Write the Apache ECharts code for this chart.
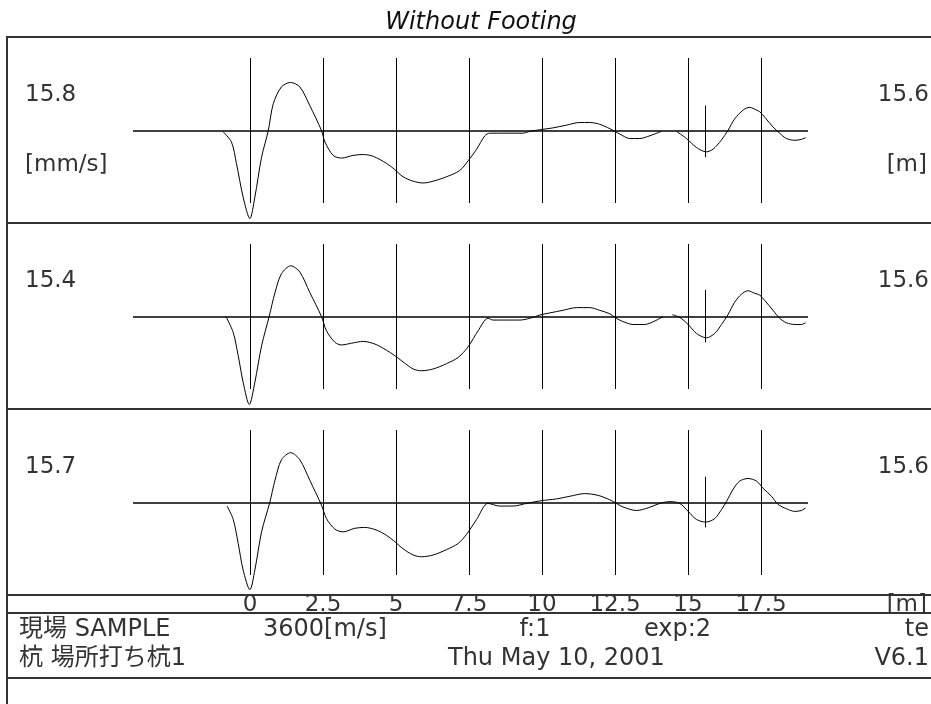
<!DOCTYPE html>
<html><head><meta charset="utf-8">
<script src="https://cdn.jsdelivr.net/npm/echarts@6/dist/echarts.min.js"></script>
<style>html,body{margin:0;padding:0;background:#fff}#c{width:931px;height:704px}</style>
</head><body><div id="c"></div>
<script>
// ---------------- data ----------------
const chartTitle = 'Without Footing';
const distTicks = ['0', '2.5', '5', '7.5', '10', '12.5', '15', '17.5'];
const gridDist = [0, 2.5, 5, 7.5, 10, 12.5, 15, 17.5];
const pileTip = 15.6;                       // pile length marker [m]
const panelMax = ['15.8', '15.4', '15.7'];  // [mm/s]
const pileLen = ['15.6', '15.6', '15.6'];   // [m]
const markerTop = [28, 30, 29];             // % of panel max
const markerBottom = [-30, -29, -28];

// distance [m] / velocity (% of panel max)
const p1Dist = [-0.93,-0.63,-0.46,-0.23,0.0,0.17,0.40,0.63,0.80,1.08,1.39,1.71,2.05,2.45,2.57,2.85,3.14,3.53,3.88,4.22,4.68,4.96,5.24,5.59,5.93,6.27,6.73,7.18,7.47,7.76,8.04,8.21,9.34,9.58,9.96,10.38,10.83,11.29,11.63,11.97,12.32,12.49,12.66,13.0,13.34,13.68,14.08,14.3,14.6,14.94,15.28,15.62,15.85,16.13,16.36,16.59,16.88,17.1,17.34,17.45,17.62,17.9,18.13,18.36,18.65,18.87,19.02];
const p1Vel = [-1,-13,-37,-75,-99,-75,-30,0,30,49,54,49,28,0,-13,-28,-31,-28,-27,-29,-37,-44,-52,-57,-59,-57,-52,-45,-34,-21,-6,-3,-3,-1,1,3,6,9,9,7,2,-1,-4,-9,-9,-6,-1,null,-1,-9,-19,-24,-21,-11,0,13,23,26,23,21,15,4,-3,-9,-11,-10,-8];

const p2Dist = [-0.82,-0.57,-0.40,-0.23,-0.02,0.17,0.40,0.66,0.86,1.08,1.40,1.71,2.05,2.45,2.62,2.91,3.14,3.48,3.88,4.28,4.68,4.96,5.24,5.59,5.87,6.27,6.73,7.13,7.47,7.81,8.15,8.32,9.24,9.58,9.96,10.26,10.72,11.18,11.63,11.97,12.32,12.49,12.72,13.11,13.51,13.86,14.14,14.3,14.46,14.71,15.0,15.28,15.62,15.91,16.14,16.36,16.59,16.82,17.05,17.28,17.45,17.62,17.9,18.13,18.36,18.65,18.87,19.02];
const p2Vel = [0,-18,-44,-74,-99,-74,-33,0,27,48,57,50,27,0,-16,-29,-32,-30,-28,-31,-38,-44,-51,-59,-61,-59,-53,-46,-34,-16,-2,-4,-4,-2,2,4,7,10,10,7,3,-1,-5,-9,-9,-5,0,null,2,-1,-9,-19,-24,-19,-9,2,16,25,29,26,24,18,7,-2,-7,-9,-9,-7];

const p3Dist = [-0.78,-0.57,-0.40,-0.23,0.0,0.17,0.40,0.68,0.86,1.08,1.40,1.71,2.05,2.45,2.62,2.91,3.19,3.59,3.93,4.33,4.68,4.96,5.24,5.59,5.87,6.27,6.73,7.13,7.41,7.76,8.15,8.55,9.01,9.47,9.96,10.49,10.95,11.46,11.92,12.32,12.49,12.77,13.23,13.63,14.03,14.37,14.71,15.0,15.28,15.6,15.91,16.14,16.31,16.54,16.76,17.05,17.34,17.56,17.85,18.07,18.36,18.65,18.87,19.02];
const p3Vel = [-4,-19,-46,-76,-98,-76,-33,0,25,48,56,48,25,-3,-18,-30,-33,-29,-28,-31,-37,-44,-52,-59,-61,-59,-53,-46,-36,-19,-1,-4,-4,-1,2,4,7,10,8,3,0,-5,-9,-6,-1,1,-1,-10,-19,-22,-18,-8,1,15,24,27,24,16,7,-2,-7,-10,-9,-6];

const infoRow1 = ['現場 SAMPLE', '3600[m/s]', 'f:1', 'exp:2', 'te'];
const infoRow2 = ['杭 場所打ち杭1', 'Thu May 10, 2001', 'V6.1'];
const velUnit = '[mm/s]';
const distUnit = '[m]';

// ---------------- layout ----------------
const FONT = '"DejaVu Sans", "Noto Sans CJK JP", sans-serif';
const FS = 23;
const TXT = '#333';
const panels = [[p1Dist, p1Vel], [p2Dist, p2Vel], [p3Dist, p3Vel]];
const panelTop = [58, 244, 430];
const panelH = 145;
const gridLeft = 133, gridRight = 931 - 808;
const yLim = 81.5;

const chart = echarts.init(document.getElementById('c'), null, {renderer: 'canvas'});

const grids = [], xAxes = [], yAxes = [], series = [];
panels.forEach((p, i) => {
  grids.push({left: gridLeft, right: gridRight, top: panelTop[i], height: panelH, containLabel: false});
  xAxes.push({type: 'value', gridIndex: i, min: -4, max: 19.1, show: false});
  yAxes.push({type: 'value', gridIndex: i, min: -yLim, max: yLim, show: false});
  const data = p[0].map((d, k) => [d, p[1][k] === null ? '-' : p[1][k]]);
  series.push({
    type: 'line', xAxisIndex: i, yAxisIndex: i, data: data,
    showSymbol: false, symbol: 'none', smooth: 0.3, clip: false, connectNulls: false,
    lineStyle: {color: '#000', width: 1},
    silent: true,
    markLine: {
      silent: true, symbol: 'none', animation: false,
      label: {show: false},
      lineStyle: {color: '#000', width: 1, type: 'solid'},
      data: gridDist.map(d => ({xAxis: d}))
        .concat([{yAxis: 0, lineStyle: {width: 1.5}}])
        .concat([[{coord: [pileTip, markerTop[i]]}, {coord: [pileTip, markerBottom[i]]}]])
    }
  });
});
// distance axis row
grids.push({left: 250, right: 931 - 761, top: 590, height: 2});
xAxes.push({type: 'category', gridIndex: 3, data: distTicks, boundaryGap: false,
  axisLine: {show: false}, axisTick: {show: false}, splitLine: {show: false},
  axisLabel: {show: true, interval: 0, margin: 2, color: TXT, fontFamily: FONT, fontSize: 23}});
yAxes.push({type: 'value', gridIndex: 3, show: false});

// frame + texts
const lineEl = (x1, y1, x2, y2) => ({type: 'line', shape: {x1, y1, x2, y2}, style: {stroke: '#333', lineWidth: 2}, silent: true});
const textEl = (t, x, y, align, fs) => ({type: 'text', x: x, y: y, silent: true,
  style: {text: t, fill: TXT, font: (fs || FS) + 'px ' + FONT, textAlign: align || 'left', textVerticalAlign: 'middle'}});
const graphics = [
  lineEl(7, 37, 931, 37), lineEl(7, 36, 7, 704),
  lineEl(7, 223, 931, 223), lineEl(7, 409, 931, 409), lineEl(7, 595, 931, 595),
  lineEl(7, 613, 931, 613), lineEl(7, 678, 931, 678)
];
panelMax.forEach((v, i) => {
  const off = i * 186;
  graphics.push(textEl(v, 25, 95 + off));
  graphics.push(textEl(pileLen[i], 929, 95 + off, 'right'));
});
const IFS = 24;
graphics.push(textEl(velUnit, 25, 165));
graphics.push(textEl(distUnit, 927, 165, 'right'));
graphics.push(textEl(distUnit, 927, 605, 'right'));
graphics.push(textEl(infoRow1[0], 19, 630, 'left', IFS));
graphics.push(textEl(infoRow1[1], 263, 630, 'left', IFS));
graphics.push(textEl(infoRow1[2], 535, 630, 'center', IFS));
graphics.push(textEl(infoRow1[3], 644, 630, 'left', IFS));
graphics.push(textEl(infoRow1[4], 929, 630, 'right', IFS));
graphics.push(textEl(infoRow2[0], 19, 659, 'left', IFS));
graphics.push(textEl(infoRow2[1], 448, 659, 'left', IFS));
graphics.push(textEl(infoRow2[2], 929, 659, 'right', IFS));

chart.setOption({
  animation: false,
  backgroundColor: '#fff',
  title: {text: chartTitle, left: 476, textAlign: 'center', top: 6,
    textStyle: {fontFamily: FONT, fontStyle: 'italic', fontWeight: 'normal', fontSize: 24, color: '#111'}},
  grid: grids, xAxis: xAxes, yAxis: yAxes, series: series,
  graphic: graphics
});
</script></body></html>
